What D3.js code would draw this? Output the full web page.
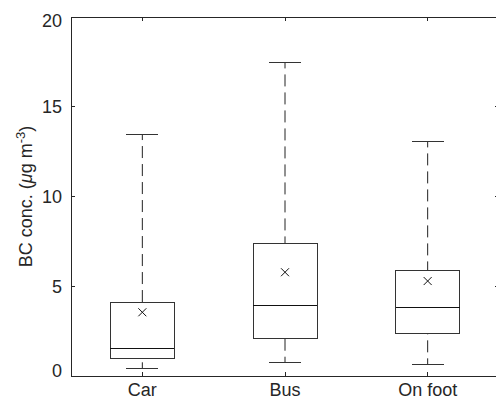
<!DOCTYPE html>
<html>
<head>
<meta charset="utf-8">
<script src="https://cdn.jsdelivr.net/npm/d3@7/dist/d3.min.js"></script>
<style>
html,body{margin:0;padding:0;background:#fff;}
svg{display:block;}
text{font-family:"Liberation Sans",Arial,Helvetica,sans-serif;fill:#262626;}
</style>
</head>
<body>
<svg id="chart" width="496" height="401"></svg>
<script>
const categories = ["Car", "Bus", "On foot"];
const whiskerLow = [0.43, 0.74, 0.65];
const q1 = [0.95, 2.1, 2.36];
const medians = [1.52, 3.9, 3.81];
const q3 = [4.1, 7.37, 5.89];
const whiskerHigh = [13.48, 17.47, 13.07];
const means = [3.55, 5.78, 5.29];
const yTicks = [0, 5, 10, 15, 20];

const svg = d3.select("#chart");
const L = 71, R = 499, T = 17, B = 376;

const x = d3.scaleLinear().domain([0.5, 3.5]).range([L, R]);
const y = d3.scaleLinear().domain([0, 20]).range([B, T]);
const axisColor = "#262626";

svg.append("rect").attr("x", L).attr("y", T).attr("width", R - L).attr("height", B - T)
  .attr("fill", "none").attr("stroke", axisColor).attr("stroke-width", 1)
  .attr("shape-rendering", "crispEdges");

const catPos = categories.map((c, i) => i + 1);

const tk = 4;
const gT = svg.append("g").attr("stroke", axisColor).attr("shape-rendering", "crispEdges");
catPos.forEach(p => {
  gT.append("line").attr("x1", x(p)).attr("x2", x(p)).attr("y1", B).attr("y2", B - tk);
  gT.append("line").attr("x1", x(p)).attr("x2", x(p)).attr("y1", T).attr("y2", T + tk);
});
yTicks.forEach(v => {
  gT.append("line").attr("x1", L).attr("x2", L + tk).attr("y1", y(v)).attr("y2", y(v));
  gT.append("line").attr("x1", R).attr("x2", R - tk).attr("y1", y(v)).attr("y2", y(v));
});

const fs = 18;
const endShift = v => v === 0 ? -5 : (v === 20 ? 4 : 0);
svg.selectAll(".ylab").data(yTicks).enter().append("text")
  .attr("x", L - 9).attr("y", d => y(d) + endShift(d)).attr("dy", "0.35em")
  .attr("text-anchor", "end").attr("font-size", fs).text(d => d);

svg.selectAll(".xlab").data(categories).enter().append("text")
  .attr("x", (d, i) => x(i + 1)).attr("y", B + 20)
  .attr("text-anchor", "middle").attr("font-size", fs).text(d => d);

const yl = svg.append("text")
  .attr("transform", `translate(32,${(T + B) / 2}) rotate(-90)`)
  .attr("text-anchor", "middle").attr("font-size", fs);
yl.append("tspan").text("BC conc. (");
yl.append("tspan").attr("font-style", "italic").text("\u03BC");
yl.append("tspan").text("g m");
yl.append("tspan").attr("font-size", 13).attr("dy", -7).text("-3");
yl.append("tspan").attr("dy", 7).text(")");

const boxW = 64, capW = 32;
const g = svg.append("g");
categories.forEach((c, i) => {
  const cx = x(i + 1);
  g.append("line").attr("x1", cx).attr("x2", cx).attr("y1", y(whiskerHigh[i])).attr("y2", y(q3[i]))
    .attr("stroke", "#222").attr("stroke-dasharray", "12,6").attr("stroke-dashoffset", -12);
  g.append("line").attr("x1", cx).attr("x2", cx).attr("y1", y(whiskerLow[i])).attr("y2", y(q1[i]))
    .attr("stroke", "#222").attr("stroke-dasharray", "12,6").attr("stroke-dashoffset", -12);
  [whiskerHigh[i], whiskerLow[i]].forEach(v => {
    g.append("line").attr("x1", cx - capW / 2).attr("x2", cx + capW / 2)
      .attr("y1", y(v)).attr("y2", y(v)).attr("stroke", "#333").attr("shape-rendering", "crispEdges");
  });
  g.append("rect").attr("x", cx - boxW / 2).attr("width", boxW)
    .attr("y", y(q3[i])).attr("height", y(q1[i]) - y(q3[i]))
    .attr("fill", "none").attr("stroke", "#333").attr("shape-rendering", "crispEdges");
  g.append("line").attr("x1", cx - boxW / 2).attr("x2", cx + boxW / 2)
    .attr("y1", y(medians[i])).attr("y2", y(medians[i])).attr("stroke", "#111")
    .attr("shape-rendering", "crispEdges");
  const my = y(means[i]), s = 4;
  g.append("path").attr("d", `M${cx - s},${my - s}L${cx + s},${my + s}M${cx - s},${my + s}L${cx + s},${my - s}`)
    .attr("stroke", "#111").attr("stroke-width", 1).attr("fill", "none");
});
</script>
</body>
</html>
